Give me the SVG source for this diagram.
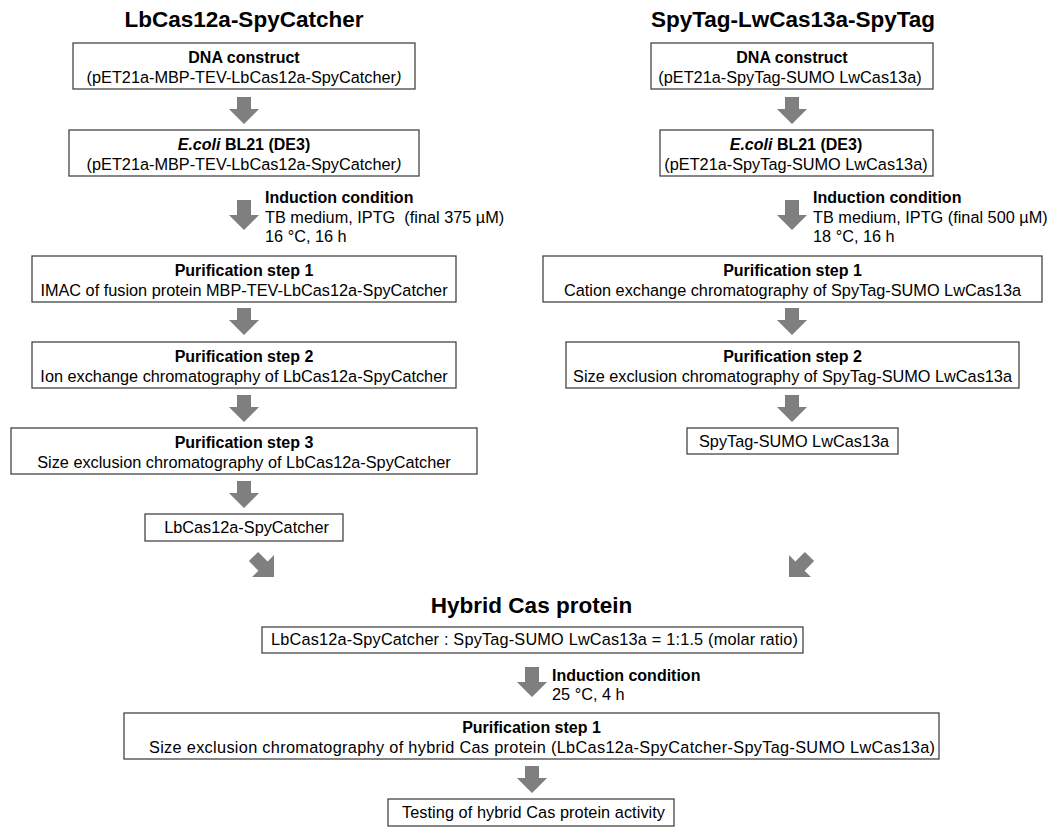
<svg xmlns="http://www.w3.org/2000/svg" width="1061" height="827" viewBox="0 0 1061 827">
<style>
text{font-family:"Liberation Sans",Arial,sans-serif;fill:#000;text-anchor:middle}
.t{font-size:22.5px;font-weight:bold}
.b{font-size:16px;font-weight:bold}
.n{font-size:16.3px}
.l{text-anchor:start}
.box{fill:#fff;stroke:#454545;stroke-width:1.3}
.ar{fill:#7f7f7f}
</style>
<defs>
<path id="a27" d="M0,0 L-15,-15 H-7 V-27 H7 V-15 H15 Z"/>
<path id="a30" d="M0,0 L-15,-15 H-7 V-30 H7 V-15 H15 Z"/>
<path id="ad" d="M0,0 L-15.5,-15.5 H-6.5 V-29 H6.5 V-15.5 H15.5 Z"/>
</defs>
<rect width="1061" height="827" fill="#fff"/>

<text class="t" x="244" y="27">LbCas12a-SpyCatcher</text>
<text class="t" x="793" y="27">SpyTag-LwCas13a-SpyTag</text>
<text class="t" x="531.5" y="613">Hybrid Cas protein</text>

<g id="L1"><rect class="box" x="73" y="43" width="342" height="46"/><text class="b" x="244" y="63">DNA construct</text><text class="n" x="244" y="83">(pET21a-MBP-TEV-LbCas12a-SpyCatcher<tspan font-style="italic">)</tspan></text></g>
<g id="L2"><rect class="box" x="69" y="130" width="350" height="46"/><text class="b" x="244" y="150"><tspan font-style="italic">E.coli</tspan> BL21 (DE3)</text><text class="n" x="244" y="170">(pET21a-MBP-TEV-LbCas12a-SpyCatcher<tspan font-style="italic">)</tspan></text></g>
<g id="L-ind"><text class="b l" x="265" y="203">Induction condition</text><text class="n l" x="265" y="223" xml:space="preserve">TB medium, IPTG  (final 375 µM)</text><text class="n l" x="265" y="242">16 °C, 16 h</text></g>
<g id="L3"><rect class="box" x="32" y="256" width="424" height="46"/><text class="b" x="244" y="276">Purification step 1</text><text class="n" x="244" y="296">IMAC of fusion protein MBP-TEV-LbCas12a-SpyCatcher</text></g>
<g id="L4"><rect class="box" x="32" y="342" width="424" height="46"/><text class="b" x="244" y="362">Purification step 2</text><text class="n" x="244" y="382">Ion exchange chromatography of LbCas12a-SpyCatcher</text></g>
<g id="L5"><rect class="box" x="11" y="428" width="466" height="46"/><text class="b" x="244" y="448">Purification step 3</text><text class="n" x="244" y="468">Size exclusion chromatography of LbCas12a-SpyCatcher</text></g>
<g id="L6"><rect class="box" x="145" y="514" width="198" height="27"/><text class="n" x="246.5" y="533">LbCas12a-SpyCatcher</text></g>

<g id="R1"><rect class="box" x="651" y="43" width="282" height="46"/><text class="b" x="792" y="63">DNA construct</text><text class="n" x="790" y="83">(pET21a-SpyTag-SUMO LwCas13a)</text></g>
<g id="R2"><rect class="box" x="660" y="130" width="273" height="46"/><text class="b" x="796" y="150"><tspan font-style="italic">E.coli</tspan> BL21 (DE3)</text><text class="n" x="796" y="170">(pET21a-SpyTag-SUMO LwCas13a)</text></g>
<g id="R-ind"><text class="b l" x="813" y="203">Induction condition</text><text class="n l" x="813" y="223">TB medium, IPTG (final 500 µM)</text><text class="n l" x="813" y="242">18 °C, 16 h</text></g>
<g id="R3"><rect class="box" x="543" y="256" width="499" height="46"/><text class="b" x="792.5" y="276">Purification step 1</text><text class="n" x="792.5" y="296">Cation exchange chromatography of SpyTag-SUMO LwCas13a</text></g>
<g id="R4"><rect class="box" x="566" y="342" width="453" height="46"/><text class="b" x="792.5" y="362">Purification step 2</text><text class="n" x="792.5" y="382">Size exclusion chromatography of SpyTag-SUMO LwCas13a</text></g>
<g id="R5"><rect class="box" x="687" y="428" width="211" height="26"/><text class="n" x="794" y="447">SpyTag-SUMO LwCas13a</text></g>

<g id="H1"><rect class="box" x="262" y="627" width="541" height="26"/><text class="n" x="534.5" y="645" textLength="527">LbCas12a-SpyCatcher : SpyTag-SUMO LwCas13a = 1:1.5 (molar ratio)</text></g>
<g id="H-ind"><text class="b l" x="552" y="681">Induction condition</text><text class="n l" x="552" y="700">25 °C, 4 h</text></g>
<g id="H2"><rect class="box" x="124" y="713" width="815" height="46"/><text class="b" x="531.5" y="733">Purification step 1</text><text class="n" x="542" y="753" textLength="786">Size exclusion chromatography of hybrid Cas protein (LbCas12a-SpyCatcher-SpyTag-SUMO LwCas13a)</text></g>
<g id="H3"><rect class="box" x="388" y="799" width="286" height="27"/><text class="n" x="533.5" y="818" textLength="263">Testing of hybrid Cas protein activity</text></g>

<g id="connectors" class="ar">
<use href="#a27" x="244" y="124"/>
<use href="#a30" x="244" y="230"/>
<use href="#a27" x="244" y="335"/>
<use href="#a27" x="244" y="422"/>
<use href="#a27" x="244" y="508"/>
<use href="#a27" x="792" y="124"/>
<use href="#a30" x="792" y="230"/>
<use href="#a27" x="792" y="335"/>
<use href="#a27" x="792" y="422"/>
<use href="#ad" transform="translate(274,577) rotate(-45)"/>
<use href="#ad" transform="translate(789,577) rotate(45)"/>
<use href="#a30" x="532" y="697"/>
<use href="#a27" x="532" y="793"/>
</g>
</svg>
